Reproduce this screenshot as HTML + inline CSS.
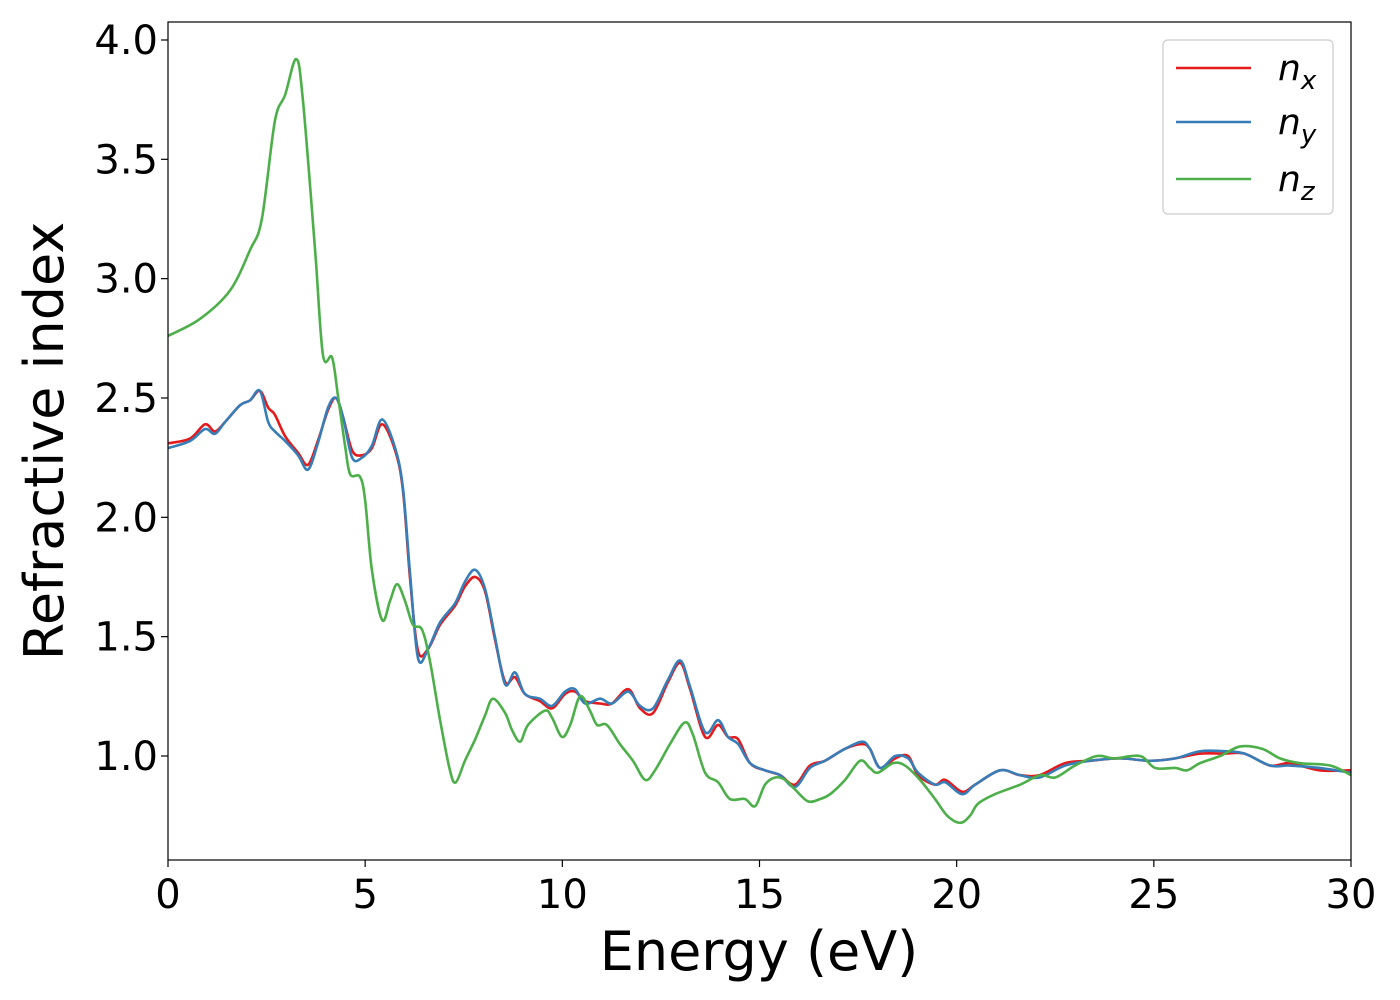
<!DOCTYPE html>
<html><head><meta charset="utf-8"><style>
body{margin:0;background:#fff;}
svg{display:block;font-family:"DejaVu Sans","Liberation Sans",sans-serif;}
</style></head><body>
<svg id="chart" width="1400" height="1000">
<g id="plot"></g>
</svg>
<script>
const energyX=[0,0.56,0.94,1.19,1.45,1.83,2.08,2.33,2.54,2.71,2.97,3.3,3.55,3.8,4.06,4.26,4.44,4.67,4.92,5.17,5.43,5.76,5.96,6.14,6.34,6.6,6.9,7.28,7.53,7.79,8.04,8.29,8.55,8.8,9.05,9.43,9.74,10.07,10.32,10.58,10.96,11.26,11.67,11.97,12.3,12.68,12.99,13.24,13.62,13.95,14.2,14.46,14.76,15.14,15.52,15.9,16.28,16.66,17.17,17.6,17.8,18.06,18.44,18.77,19.02,19.45,19.71,20.14,20.47,21.1,21.6,22.1,22.75,23.38,24.14,24.9,25.54,26.17,26.8,27.3,27.95,28.46,29.2,30];
const nxValues=[2.31,2.33,2.39,2.36,2.40,2.47,2.49,2.53,2.46,2.43,2.34,2.27,2.22,2.32,2.45,2.50,2.42,2.28,2.26,2.29,2.39,2.28,2.11,1.74,1.44,1.45,1.55,1.63,1.71,1.75,1.69,1.49,1.31,1.33,1.26,1.23,1.20,1.26,1.27,1.23,1.22,1.22,1.28,1.20,1.18,1.31,1.39,1.28,1.08,1.13,1.08,1.07,0.97,0.94,0.92,0.88,0.96,0.98,1.03,1.05,1.03,0.95,0.99,1.0,0.92,0.88,0.90,0.85,0.88,0.94,0.92,0.92,0.97,0.98,0.99,0.98,0.99,1.01,1.01,1.01,0.96,0.97,0.94,0.94];
const nyValues=[2.29,2.32,2.37,2.35,2.40,2.47,2.49,2.53,2.40,2.36,2.32,2.26,2.20,2.31,2.46,2.50,2.42,2.25,2.25,2.30,2.41,2.29,2.12,1.76,1.41,1.45,1.56,1.64,1.73,1.78,1.70,1.50,1.30,1.35,1.26,1.24,1.21,1.27,1.28,1.22,1.24,1.22,1.27,1.21,1.20,1.32,1.40,1.29,1.10,1.15,1.08,1.05,0.97,0.94,0.92,0.87,0.95,0.98,1.03,1.06,1.03,0.95,1.0,0.99,0.93,0.88,0.89,0.84,0.88,0.94,0.92,0.91,0.96,0.98,0.99,0.98,0.99,1.02,1.02,1.01,0.96,0.96,0.95,0.93];
const energyZ=[0,0.8,1.57,2.08,2.38,2.71,2.97,3.25,3.42,3.73,3.93,4.16,4.31,4.49,4.62,4.87,5.0,5.17,5.43,5.63,5.81,6.01,6.21,6.44,6.64,6.9,7.15,7.3,7.53,7.79,8.04,8.24,8.55,8.72,8.93,9.13,9.56,9.74,9.99,10.2,10.45,10.7,10.88,11.13,11.46,11.79,12.1,12.35,12.73,13.1,13.31,13.62,13.95,14.25,14.63,14.89,15.14,15.4,15.65,15.9,16.23,16.54,16.79,17.17,17.55,17.8,18.0,18.39,18.69,19.07,19.45,19.76,20.09,20.34,20.54,20.97,21.61,22.12,22.5,23.0,23.56,24.0,24.65,25.03,25.54,25.84,26.17,26.68,27.19,27.75,28.2,28.71,29.47,30];
const nzValues=[2.76,2.83,2.95,3.12,3.25,3.66,3.77,3.92,3.75,3.12,2.68,2.67,2.51,2.30,2.18,2.17,2.07,1.78,1.57,1.65,1.72,1.65,1.55,1.53,1.40,1.15,0.94,0.89,0.98,1.07,1.17,1.24,1.18,1.11,1.06,1.13,1.19,1.16,1.08,1.13,1.25,1.19,1.13,1.13,1.05,0.98,0.90,0.94,1.05,1.14,1.09,0.93,0.89,0.82,0.82,0.79,0.88,0.91,0.90,0.86,0.81,0.82,0.84,0.90,0.98,0.95,0.93,0.97,0.96,0.90,0.82,0.75,0.72,0.75,0.80,0.84,0.88,0.92,0.91,0.96,1.00,0.99,1.00,0.95,0.95,0.94,0.97,1.0,1.04,1.03,0.99,0.97,0.96,0.92];
const xTicks=[0,5,10,15,20,25,30];
const yTicks=[1.0,1.5,2.0,2.5,3.0,3.5,4.0];

const X0=168,X1=1351,Y0=22,Y1=860;
const xs=v=>X0+(v/30)*(X1-X0);
const ys=v=>756-(v-1)*238.67;
const NS="http://www.w3.org/2000/svg";
const g=document.getElementById('plot');
function mk(t,a){const e=document.createElementNS(NS,t);for(const k in a)e.setAttribute(k,a[k]);g.appendChild(e);return e;}
function smooth(xa,ya){const p=xa.map((x,i)=>[xs(x),ys(ya[i])]);let d=`M${p[0][0]},${p[0][1]}`;
for(let i=0;i<p.length-1;i++){const a=p[i-1]||p[i],b=p[i],c=p[i+1],e=p[i+2]||c;
d+=` C${b[0]+(c[0]-a[0])/6},${b[1]+(c[1]-a[1])/6} ${c[0]-(e[0]-b[0])/6},${c[1]-(e[1]-b[1])/6} ${c[0]},${c[1]}`;}return d;}
const cp=mk('clipPath',{id:'clip'});const r=document.createElementNS(NS,'rect');r.setAttribute('x',X0);r.setAttribute('y',Y0);r.setAttribute('width',X1-X0);r.setAttribute('height',Y1-Y0);cp.appendChild(r);
const series=[[energyX,nxValues,'#e41a1c','nx-line'],[energyX,nyValues,'#377eb8','ny-line'],[energyZ,nzValues,'#4daf4a','nz-line']];
series.forEach(s=>{const el=mk('path',{d:smooth(s[0],s[1]),fill:'none',stroke:s[2],'stroke-width':2.6,'clip-path':'url(#clip)'});

});
const fr=mk('rect',{x:X0,y:Y0,width:X1-X0,height:Y1-Y0,fill:'none',stroke:'#000','stroke-width':1.2});


xTicks.forEach(t=>{mk('line',{x1:xs(t),x2:xs(t),y1:Y1,y2:Y1+7,stroke:'#000','stroke-width':1.2});
const tx=mk('text',{x:xs(t),y:908,'font-size':40,'text-anchor':'middle'});tx.textContent=t;

});
yTicks.forEach(t=>{mk('line',{x1:X0-7,x2:X0,y1:ys(t),y2:ys(t),stroke:'#000','stroke-width':1.2});
const tx=mk('text',{x:158,y:ys(t)+14,'font-size':40,'text-anchor':'end'});tx.textContent=t.toFixed(1);

});
const xt=mk('text',{x:759,y:970,'font-size':54,'text-anchor':'middle'});xt.textContent='Energy (eV)';


const yt=mk('text',{x:0,y:0,'font-size':54,'text-anchor':'middle',transform:'translate(63,441) rotate(-90)'});yt.textContent='Refractive index';


const lg=mk('rect',{x:1163,y:40,width:170,height:174,rx:5,fill:'#fff',stroke:'#ccc','stroke-width':1.2});


[['x',68,'#e41a1c'],['y',122,'#377eb8'],['z',179,'#4daf4a']].forEach(l=>{
mk('line',{x1:1176,x2:1251,y1:l[1],y2:l[1],stroke:l[2],'stroke-width':2.6});
const t=mk('text',{x:1278,y:l[1]+12,'font-size':36,'font-style':'italic'});
t.innerHTML='n<tspan font-size="26" dy="9">'+l[0]+'</tspan>';

});
</script>
</body></html>
